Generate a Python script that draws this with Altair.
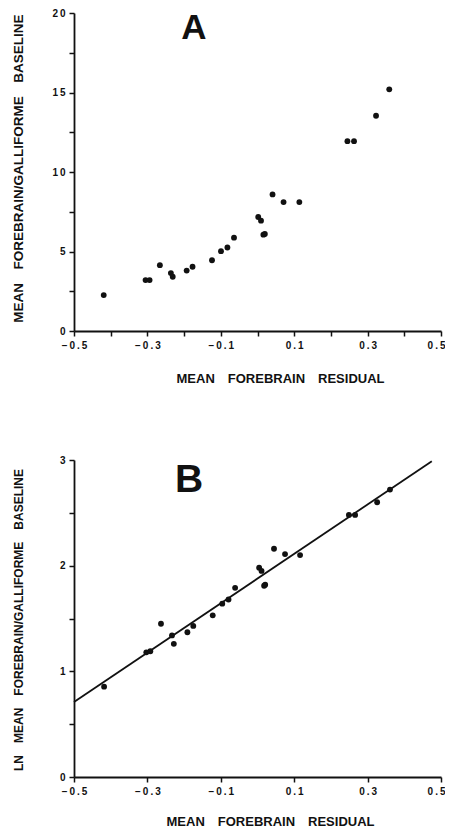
import altair as alt
import pandas as pd

# ---- data ----
a_x = [-0.419, -0.305, -0.294, -0.266, -0.236, -0.231, -0.193, -0.177, -0.124, -0.0995,
       -0.082, -0.064, 0.002, 0.0096, 0.016, 0.020, 0.041, 0.071, 0.114, 0.245, 0.263,
       0.323, 0.359]
a_y = [2.26, 3.2, 3.2, 4.14, 3.64, 3.41, 3.8, 4.04, 4.45, 5.02, 5.25, 5.87, 7.17, 6.94,
       6.06, 6.1, 8.59, 8.11, 8.11, 11.94, 11.94, 13.54, 15.2]

b_x = [-0.418, -0.303, -0.292, -0.263, -0.233, -0.228, -0.191, -0.175, -0.122, -0.096,
       -0.079, -0.061, 0.0045, 0.011, 0.018, 0.021, 0.045, 0.075, 0.116, 0.249, 0.266,
       0.326, 0.361]
b_y = [0.855, 1.18, 1.19, 1.45, 1.34, 1.26, 1.37, 1.43, 1.53, 1.64, 1.68, 1.79, 1.98,
       1.95, 1.81, 1.82, 2.16, 2.11, 2.10, 2.48, 2.48, 2.60, 2.72]

x_ticks = [-0.5, -0.4, -0.3, -0.2, -0.1, 0.0, 0.1, 0.2, 0.3, 0.4, 0.5]
a_ticks = [0, 2.5, 5, 7.5, 10, 12.5, 15, 17.5, 20]
b_ticks = [0, 0.5, 1, 1.5, 2, 2.5, 3]
panel_labels = ["A", "B"]
SP = "\u2003"
x_title = SP.join(["MEAN", "FOREBRAIN", "RESIDUAL"])
a_title = SP.join(["MEAN", "FOREBRAIN/GALLIFORME", "BASELINE"])
b_title = SP.join(["LN", "MEAN", "FOREBRAIN/GALLIFORME", "BASELINE"])

INK = "#111111"
FONT = "Liberation Sans"
W = 367
HA, HB = 318, 317

dfa = pd.DataFrame({"x": a_x, "y": a_y})
dfb = pd.DataFrame({"x": b_x, "y": b_y})

x_label_expr = ("abs(round(datum.value*10)) % 2 == 1 ? "
                "join(split(format(datum.value, '.1f'), ''), '\u2009') : ''")


def y_label_expr(step):
    return ("abs(datum.value % " + str(step) + ") < 0.001 ? "
            "join(split(format(datum.value, 'd'), ''), '\u2009') : ''")


common_axis = dict(
    grid=False, domainColor=INK, domainWidth=1.8, tickColor=INK, tickWidth=1.5,
    tickSize=5, labelFont=FONT, labelFontWeight="bold", labelFontSize=10,
    labelColor=INK, titleFont=FONT, titleFontWeight="bold", titleColor=INK,
)

last_label_align = {"condition": {"test": "datum.value > 0.45", "value": "right"},
                    "value": "center"}
last_label_offset = {"condition": {"test": "datum.value > 0.45", "value": 4},
                     "value": 0}


def x_axis(tx, ty):
    return alt.Axis(values=x_ticks, labelExpr=x_label_expr, title=x_title,
                    titleFontSize=13, titleX=tx, titleY=ty, titleBaseline="middle",
                    titleAlign="center", labelPadding=4, labelFlush=False,
                    labelOverlap=False, labelAlign=last_label_align,
                    labelOffset=last_label_offset, **common_axis)


def y_axis(ticks, step, title, ty, size):
    return alt.Axis(values=ticks, labelExpr=y_label_expr(step), title=title,
                    titleFontSize=size, titleX=-55.5, titleY=ty,
                    titleBaseline="middle", titleAlign="center", titleAngle=270,
                    labelPadding=4, labelFlush=False, labelOverlap=False,
                    **common_axis)


xscale = alt.Scale(domain=[-0.5, 0.5], nice=False, zero=False)

pts_a = alt.Chart(dfa).mark_circle(size=34, color=INK, opacity=1).encode(
    x=alt.X("x:Q", scale=xscale, axis=x_axis(206, 47)),
    y=alt.Y("y:Q", scale=alt.Scale(domain=[0, 20], nice=False),
            axis=y_axis(a_ticks, 5, a_title, 155, 13.5)),
)
lab_a = alt.Chart(pd.DataFrame({"t": [panel_labels[0]]})).mark_text(
    font=FONT, fontWeight="bold", fontSize=35, color=INK, baseline="top",
    align="center").encode(text="t:N", x=alt.value(120), y=alt.value(-2))
panel_a = alt.layer(pts_a, lab_a).properties(width=W, height=HA)

pts_b = alt.Chart(dfb).mark_circle(size=34, color=INK, opacity=1).encode(
    x=alt.X("x:Q", scale=xscale, axis=x_axis(196, 44)),
    y=alt.Y("y:Q", scale=alt.Scale(domain=[0, 3], nice=False),
            axis=y_axis(b_ticks, 1, b_title, 159.5, 12)),
)
line_b = alt.Chart(dfb).transform_regression(
    "x", "y", extent=[-0.5, 0.475]).mark_line(color=INK, strokeWidth=1.8).encode(
    x=alt.X("x:Q", scale=xscale), y=alt.Y("y:Q"))
lab_b = alt.Chart(pd.DataFrame({"t": [panel_labels[1]]})).mark_text(
    font=FONT, fontWeight="bold", fontSize=39, color=INK, baseline="top",
    align="center").encode(text="t:N", x=alt.value(115), y=alt.value(1))
panel_b = alt.layer(line_b, pts_b, lab_b).properties(width=W, height=HB)

chart = alt.vconcat(panel_a, panel_b, spacing=70).properties(
    padding={"left": 3, "top": 0, "right": 0, "bottom": 0},
    background="white",
).configure_view(stroke=None)

chart.save("out.html", embed_options={"renderer": "svg", "actions": False})
